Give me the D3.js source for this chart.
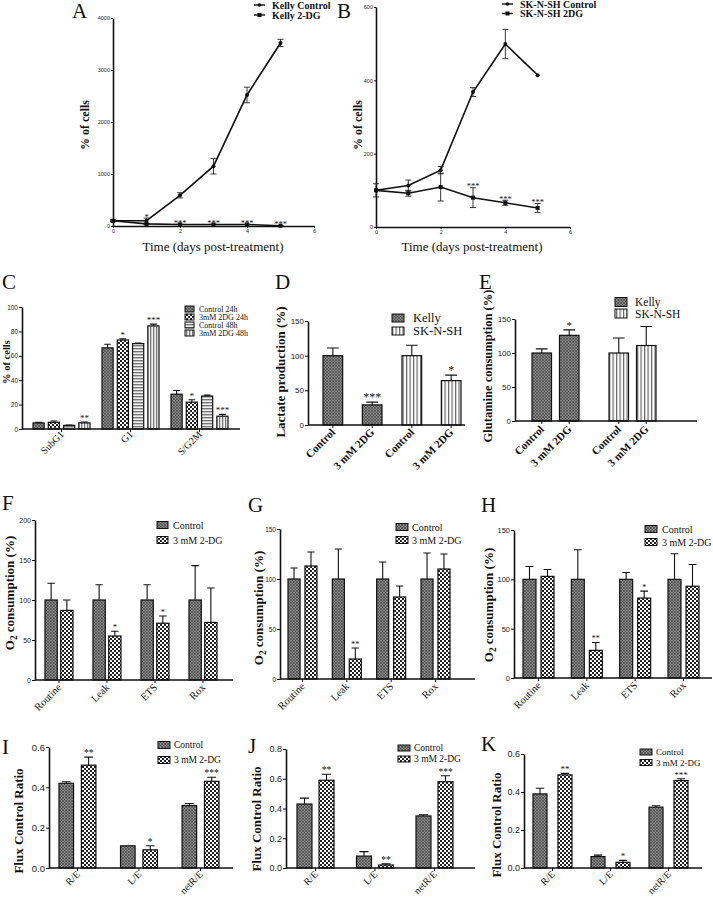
<!DOCTYPE html>
<html><head><meta charset="utf-8">
<script src="https://cdn.jsdelivr.net/npm/d3@7"></script>
<style>
body{margin:0;background:#fff}
svg{display:block}
text{font-family:"Liberation Serif","Times New Roman",serif;fill:#111}
.tick text{font-family:"Liberation Sans",Arial,sans-serif;fill:#222}
</style>
</head><body><svg id="fig" width="713" height="901"></svg>
<script>
// ---------------- DATA ----------------
const days = [0, 1, 2, 3, 4, 5];
const kellyControl = [100, 102, 590, 1150, 2520, 3520];
const kellyControlErr = [20, 50, 50, 150, 150, 70];
const kelly2DG = [100, 40, 30, 30, 30, 5];
const kelly2DGErr = [10, 10, 5, 5, 5, 3];
const kellyStars = ["", "*", "***", "***", "***", "***"];

const shControl = [100, 113, 155, 368, 499, 414];
const shControlErr = [18, 15, 10, 12, 40, 0];
const sh2DG = [100, 92, 109, 80, 66, 52];
const sh2DGErr = [0, 8, 38, 27, 7, 12];
const shStars = ["", "", "", "***", "***", "***"];

const cPhases = ["SubG1", "G1", "S/G2M"];
const cSeries = ["Control  24h", "3mM 2DG  24h", "Control  48h", "3mM 2DG  48h"];
const cControl24 = [5, 66.5, 28.5];
const cControl24Err = [0.5, 3, 3];
const c2DG24 = [5.5, 73, 22];
const c2DG24Err = [1, 1, 2];
const cControl48 = [3, 70, 27];
const cControl48Err = [0.3, 0.5, 0.8];
const c2DG48 = [5, 84.5, 10.5];
const c2DG48Err = [0.7, 1.5, 1.5];
const cStars = [["", "", ""], ["", "*", "*"], ["", "", ""], ["**", "***", "***"]];

const cellLines = ["Kelly", "SK-N-SH"];
const treatments = ["Control", "3 mM 2DG"];
const lactateControl = [100, 100];
const lactateControlErr = [11, 15];
const lactate2DG = [29, 64];
const lactate2DGErr = [4, 8];
const lactateStars = [["", ""], ["***", "*"]];

const glutControl = [100, 100];
const glutControlErr = [6, 22];
const glut2DG = [126, 111];
const glut2DGErr = [8, 28];
const glutStars = [["", ""], ["*", ""]];

const o2States = ["Routine", "Leak", "ETS", "Rox"];
const o2Series = ["Control", "3 mM 2-DG"];
const fControl = [100, 100, 100, 100];
const fControlErr = [21, 19, 19, 43];
const f2DG = [87, 55, 71, 72];
const f2DGErr = [13, 6, 9, 43];
const fStars = [["", "", "", ""], ["", "*", "*", ""]];

const gControl = [100, 100, 100, 100];
const gControlErr = [11, 30, 17, 26];
const g2DG = [113, 20, 82, 110];
const g2DGErr = [14, 11, 11, 15];
const gStars = [["", "", "", ""], ["", "**", "", ""]];

const hControl = [100, 100, 100, 100];
const hControlErr = [13, 30, 7, 26];
const h2DG = [103, 28, 81, 93];
const h2DGErr = [7, 8, 7, 22];
const hStars = [["", "", "", ""], ["", "**", "*", ""]];

const ratios = ["R/E", "L/E", "netR/E"];
const iControl = [0.42, 0.11, 0.31];
const iControlErr = [0.008, 0.0, 0.01];
const i2DG = [0.51, 0.09, 0.43];
const i2DGErr = [0.04, 0.02, 0.02];
const iStars = [["", "", ""], ["**", "*", "***"]];

const jControl = [0.43, 0.08, 0.35];
const jControlErr = [0.04, 0.03, 0.008];
const j2DG = [0.59, 0.02, 0.58];
const j2DGErr = [0.04, 0.008, 0.04];
const jStars = [["", "", ""], ["**", "**", "***"]];

const kControl = [0.39, 0.06, 0.32];
const kControlErr = [0.03, 0.008, 0.008];
const k2DG = [0.49, 0.03, 0.46];
const k2DGErr = [0.008, 0.01, 0.01];
const kStars = [["", "", ""], ["**", "*", "***"]];

// ---------------- DRAWING ----------------
const svg = d3.select("#fig");
svg.append("rect").attr("width", 713).attr("height", 901).attr("fill", "#fff");

const defs = svg.append("defs");
function pat(id, w, h, bg, draw) {
  const p = defs.append("pattern").attr("id", id).attr("width", w).attr("height", h)
    .attr("patternUnits", "userSpaceOnUse");
  p.append("rect").attr("width", w).attr("height", h).attr("fill", bg);
  draw(p);
}
pat("pCtrl", 3, 3, "#868686", p => p.append("path").attr("d", "M0,0L3,3M3,0L0,3").attr("stroke", "#4a4a4a").attr("stroke-width", 0.7));
pat("pDG", 4, 4, "#fff", p => {
  p.append("rect").attr("x", 0).attr("y", 0).attr("width", 2).attr("height", 2).attr("fill", "#222");
  p.append("rect").attr("x", 2).attr("y", 2).attr("width", 2).attr("height", 2).attr("fill", "#222");
});
pat("pH", 3, 3, "#f2f2f2", p => p.append("rect").attr("width", 3).attr("height", 1.4).attr("fill", "#777"));
pat("pV", 3, 3, "#f2f2f2", p => p.append("rect").attr("width", 1.3).attr("height", 3).attr("fill", "#777"));
pat("pV2", 3.5, 3, "#fff", p => p.append("rect").attr("width", 1.2).attr("height", 3).attr("fill", "#666"));

function styleAxis(sel, fs) {
  sel.select(".domain").attr("stroke", "#111").attr("stroke-width", 1.6);
  sel.selectAll(".tick line").attr("stroke", "#111").attr("stroke-width", 1);
  sel.selectAll(".tick text").attr("font-size", fs);
}

function letter(t, x, y) {
  svg.append("text").attr("x", x).attr("y", y).attr("font-size", 21).text(t);
}

function yLabel(parts, cx, cy, fs) {
  const t = svg.append("text").attr("transform", `translate(${cx},${cy}) rotate(-90)`)
    .attr("text-anchor", "middle").attr("dy", "0.35em").attr("font-size", fs).attr("font-weight", "bold");
  if (typeof parts === "string") t.text(parts);
  else {
    t.append("tspan").text("O");
    t.append("tspan").attr("dy", 3).attr("font-size", fs * 0.72).text("2");
    t.append("tspan").attr("dy", -3).text(" consumption (%)");
  }
}

function linePanel(c) {
  const x = d3.scaleLinear().domain([0, 6]).range(c.xr);
  const y = d3.scaleLinear().domain([0, c.yMax]).range(c.yr);
  svg.append("g").attr("transform", `translate(0,${c.yr[0]})`)
    .call(d3.axisBottom(x).tickValues([0, 2, 4, 6]).tickFormat(d3.format("d")).tickSize(2).tickSizeOuter(0).tickPadding(1))
    .call(styleAxis, 5.5);
  svg.append("g").attr("transform", `translate(${c.xr[0]},0)`)
    .call(d3.axisLeft(y).tickValues(c.yTicks).tickFormat(d3.format("d")).tickSize(2).tickSizeOuter(0).tickPadding(1))
    .call(styleAxis, 5.5);
  c.series.forEach(s => {
    const pts = days.map((d, i) => ({ d, v: s.values[i], e: s.err[i] }));
    svg.append("path").datum(pts).attr("fill", "none").attr("stroke", "#111").attr("stroke-width", 1.6)
      .attr("d", d3.line().x(p => x(p.d)).y(p => y(p.v)));
    pts.forEach(p => {
      if (p.e > 0) {
        svg.append("path").attr("stroke", "#222").attr("stroke-width", 0.9).attr("fill", "none")
          .attr("d", `M${x(p.d)},${y(p.v - p.e)}V${y(p.v + p.e)}M${x(p.d) - 3},${y(p.v - p.e)}h6M${x(p.d) - 3},${y(p.v + p.e)}h6`);
      }
      if (s.marker === "circle") svg.append("circle").attr("cx", x(p.d)).attr("cy", y(p.v)).attr("r", 2).attr("fill", "#111");
      else svg.append("rect").attr("x", x(p.d) - 2).attr("y", y(p.v) - 2).attr("width", 4).attr("height", 4).attr("fill", "#111");
    });
  });
  const st = c.series[1];
  c.stars.forEach((s, i) => {
    if (!s) return;
    const top = Math.max(st.values[i] + st.err[i], c.starMin[i] || 0);
    svg.append("text").attr("x", x(days[i])).attr("y", y(top) + 1.5).attr("text-anchor", "middle")
      .attr("font-size", 8.5).text(s);
  });
  c.series.forEach((s, i) => {
    const ly = c.legY + i * c.legStep;
    svg.append("line").attr("x1", c.legX).attr("x2", c.legX + 11).attr("y1", ly).attr("y2", ly).attr("stroke", "#111").attr("stroke-width", 1.4);
    if (s.marker === "circle") svg.append("circle").attr("cx", c.legX + 5.5).attr("cy", ly).attr("r", 1.8).attr("fill", "#111");
    else svg.append("rect").attr("x", c.legX + 3.5).attr("y", ly - 2).attr("width", 4).attr("height", 4).attr("fill", "#111");
    svg.append("text").attr("x", c.legX + 18).attr("y", ly).attr("dy", "0.35em").attr("font-size", 10)
      .attr("font-weight", "bold").text(s.name);
  });
  yLabel("% of cells", c.ylab[0], c.ylab[1], 12);
  svg.append("text").attr("x", c.xlab[0]).attr("y", c.xlab[1]).attr("text-anchor", "middle").attr("font-size", 13)
    .text("Time (days post-treatment)");
  letter(c.letter, c.letterPos[0], c.letterPos[1]);
}

function barPanel(c) {
  const y = d3.scaleLinear().domain([0, c.yMax]).range([c.y0, c.y1]);
  const x0 = d3.scaleBand().domain(c.groups).range(c.barRange).paddingInner(c.pGroup);
  const x1 = d3.scaleBand().domain(c.series).range([0, x0.bandwidth()]).paddingInner(c.pInner);
  const bw = x1.bandwidth();
  c.series.forEach((s, si) => c.groups.forEach((grp, gi) => {
    const v = c.values[si][gi], e = c.errors[si][gi], st = c.stars[si][gi];
    const bx = x0(grp) + x1(s), cx = bx + bw / 2;
    svg.append("rect").attr("x", bx).attr("y", y(v)).attr("width", bw).attr("height", y(0) - y(v))
      .attr("fill", c.fill(gi, si)).attr("stroke", "#111").attr("stroke-width", 1.2);
    if (e > 0) {
      svg.append("path").attr("stroke", "#111").attr("stroke-width", 1.1).attr("fill", "none")
        .attr("d", `M${cx},${y(v)}V${y(v + e)}M${cx - bw * 0.3},${y(v + e)}h${bw * 0.6}`);
    }
    if (st) svg.append("text").attr("x", cx).attr("y", y(v + e) - 1).attr("text-anchor", "middle")
      .attr("font-size", c.starFs).text(st);
    if (c.perBarLabels) {
      svg.append("text").attr("transform", `translate(${cx + 3},${y(0) + c.labDy}) rotate(-45)`)
        .attr("text-anchor", "end").attr("font-size", c.labFs).attr("font-weight", c.labWeight || "normal").text(s);
      svg.append("line").attr("x1", cx).attr("x2", cx).attr("y1", y(0)).attr("y2", y(0) + 3).attr("stroke", "#111");
    }
  }));
  if (!c.perBarLabels) c.groups.forEach(grp => {
    const cx = x0(grp) + x0.bandwidth() / 2;
    svg.append("line").attr("x1", cx).attr("x2", cx).attr("y1", y(0)).attr("y2", y(0) + 3).attr("stroke", "#111");
    svg.append("text").attr("transform", `translate(${cx + 3},${y(0) + c.labDy}) rotate(-45)`)
      .attr("text-anchor", "end").attr("font-size", c.labFs).attr("font-weight", c.labWeight || "normal").text(grp);
  });
  svg.append("g").attr("transform", `translate(${c.axisX},0)`)
    .call(d3.axisLeft(y).tickValues(c.yTicks).tickFormat(c.fmt || d3.format("d")).tickSize(3).tickSizeOuter(0).tickPadding(1))
    .call(styleAxis, c.tickFs);
  svg.append("line").attr("x1", c.axisX).attr("x2", c.axisEnd).attr("y1", y(0)).attr("y2", y(0))
    .attr("stroke", "#111").attr("stroke-width", 1.6);
  c.legend.forEach((it, i) => {
    const ly = c.leg[1] + i * c.leg[2];
    svg.append("rect").attr("x", c.leg[0]).attr("y", ly - c.sw[1] / 2).attr("width", c.sw[0]).attr("height", c.sw[1])
      .attr("fill", it.fill).attr("stroke", "#111").attr("stroke-width", 1);
    svg.append("text").attr("x", c.leg[0] + c.sw[0] + c.legGap).attr("y", ly).attr("dy", "0.35em")
      .attr("font-size", c.legFs).text(it.label);
  });
  yLabel(c.ylabel, c.ylab[0], c.ylab[1], c.ylabFs);
  letter(c.letter, c.letterPos[0], c.letterPos[1]);
}

// Panel A
linePanel({
  letter: "A", letterPos: [72, 18], xr: [113, 314], yr: [226, 18], yMax: 4000, yTicks: [0, 1000, 2000, 3000, 4000],
  series: [
    { name: "Kelly Control", values: kellyControl, err: kellyControlErr, marker: "circle" },
    { name: "Kelly 2-DG", values: kelly2DG, err: kelly2DGErr, marker: "square" }
  ],
  stars: kellyStars, starMin: [0, kellyControl[1] + kellyControlErr[1]],
  legX: 254, legY: 5, legStep: 10, ylab: [85, 125], xlab: [213, 251]
});
// Panel B
linePanel({
  letter: "B", letterPos: [337, 18], xr: [376, 570], yr: [227, 7], yMax: 600, yTicks: [0, 200, 400, 600],
  series: [
    { name: "SK-N-SH Control", values: shControl, err: shControlErr, marker: "circle" },
    { name: "SK-N-SH 2DG", values: sh2DG, err: sh2DGErr, marker: "square" }
  ],
  stars: shStars, starMin: [],
  legX: 502, legY: 4, legStep: 9.5, ylab: [358, 125], xlab: [472, 251]
});

const ctrlFill = "url(#pCtrl)", dgFill = "url(#pDG)";
const cFills = [ctrlFill, dgFill, "url(#pH)", "url(#pV)"];
// Panel C
barPanel({
  letter: "C", letterPos: [2, 289], groups: cPhases, series: cSeries,
  values: [cControl24, c2DG24, cControl48, c2DG48], errors: [cControl24Err, c2DG24Err, cControl48Err, c2DG48Err],
  stars: cStars, fill: (g, s) => cFills[s],
  yMax: 100, y0: 429, y1: 307, yTicks: [0, 20, 40, 60, 80, 100], barRange: [33, 228], pGroup: 0.174, pInner: 0.27,
  axisX: 22, axisEnd: 240, tickFs: 6.5, starFs: 9, labFs: 10, labDy: 6,
  legend: cSeries.map((s, i) => ({ label: s, fill: cFills[i] })), leg: [185, 309, 8], sw: [9, 6], legGap: 5, legFs: 8,
  ylabel: "% of cells", ylab: [6, 362], ylabFs: 10.5
});
const dFills = [ctrlFill, "url(#pV2)"];
// Panel D
barPanel({
  letter: "D", letterPos: [275, 289], groups: cellLines, series: treatments,
  values: [lactateControl, lactate2DG], errors: [lactateControlErr, lactate2DGErr],
  stars: lactateStars, fill: (g, s) => dFills[g],
  yMax: 150, y0: 425, y1: 321, yTicks: [0, 50, 100, 150], barRange: [323, 461], pGroup: 0.253, pInner: 0.5,
  axisX: 308, axisEnd: 465, tickFs: 8, starFs: 12, labFs: 11, labWeight: "bold", labDy: 8, perBarLabels: true,
  legend: cellLines.map((s, i) => ({ label: s, fill: dFills[i] })), leg: [392, 318, 13], sw: [12, 8], legGap: 9, legFs: 12.5,
  ylabel: "Lactate production (%)", ylab: [280, 372], ylabFs: 13
});
// Panel E
barPanel({
  letter: "E", letterPos: [479, 289], groups: cellLines, series: treatments,
  values: [glutControl, glut2DG], errors: [glutControlErr, glut2DGErr],
  stars: glutStars, fill: (g, s) => dFills[g],
  yMax: 150, y0: 421, y1: 319, yTicks: [0, 50, 100, 150], barRange: [532, 656], pGroup: 0.39, pInner: 0.29,
  axisX: 515, axisEnd: 697, tickFs: 8, starFs: 11, labFs: 11, labWeight: "bold", labDy: 9, perBarLabels: true,
  legend: cellLines.map((s, i) => ({ label: s, fill: dFills[i] })), leg: [615, 302, 11.5], sw: [12, 9], legGap: 8, legFs: 11.5,
  ylabel: "Glutamine consumption (%)", ylab: [488, 366], ylabFs: 12.5
});
const sFills = [ctrlFill, dgFill];
const o2Legend = o2Series.map((s, i) => ({ label: s, fill: sFills[i] }));
// Panel F
barPanel({
  letter: "F", letterPos: [2, 510], groups: o2States, series: o2Series,
  values: [fControl, f2DG], errors: [fControlErr, f2DGErr], stars: fStars, fill: (g, s) => sFills[s],
  yMax: 200, y0: 680, y1: 520, yTicks: [0, 50, 100, 150, 200], barRange: [45, 217], pGroup: 0.417, pInner: 0.22,
  axisX: 35, axisEnd: 233, tickFs: 7, starFs: 8.5, labFs: 10.5, labDy: 8,
  legend: o2Legend, leg: [157, 525, 15], sw: [11, 7], legGap: 5, legFs: 10,
  ylabel: null, ylab: [9, 593], ylabFs: 13
});
// Panel G
barPanel({
  letter: "G", letterPos: [248, 512], groups: o2States, series: o2Series,
  values: [gControl, g2DG], errors: [gControlErr, g2DGErr], stars: gStars, fill: (g, s) => sFills[s],
  yMax: 150, y0: 679, y1: 529, yTicks: [0, 50, 100, 150], barRange: [288, 450], pGroup: 0.346, pInner: 0.29,
  axisX: 280, axisEnd: 475, tickFs: 6.5, starFs: 8.5, labFs: 10.5, labDy: 8,
  legend: o2Legend, leg: [396, 527, 13], sw: [12, 7], legGap: 4, legFs: 10,
  ylabel: null, ylab: [258, 608], ylabFs: 13
});
// Panel H
barPanel({
  letter: "H", letterPos: [481, 512], groups: o2States, series: o2Series,
  values: [hControl, h2DG], errors: [hControlErr, h2DGErr], stars: hStars, fill: (g, s) => sFills[s],
  yMax: 150, y0: 678, y1: 530, yTicks: [0, 50, 100, 150], barRange: [523, 699], pGroup: 0.359, pInner: 0.28,
  axisX: 514, axisEnd: 712, tickFs: 7.5, starFs: 8, labFs: 10.5, labDy: 8,
  legend: o2Legend, leg: [645, 529, 13], sw: [12, 7], legGap: 5, legFs: 10,
  ylabel: null, ylab: [488, 605], ylabFs: 13
});
const f1 = d3.format(".1f");
// Panel I
barPanel({
  letter: "I", letterPos: [2, 754], groups: ratios, series: o2Series,
  values: [iControl, i2DG], errors: [iControlErr, i2DGErr], stars: iStars, fill: (g, s) => sFills[s],
  yMax: 0.6, y0: 868, y1: 747, yTicks: [0, 0.2, 0.4, 0.6], fmt: f1, barRange: [59, 219], pGroup: 0.4, pInner: 0.35,
  axisX: 49, axisEnd: 233, tickFs: 9.5, starFs: 9.5, labFs: 10, labDy: 7,
  legend: o2Legend, leg: [158, 745, 15], sw: [12, 7], legGap: 4, legFs: 9.5,
  ylabel: "Flux Control Ratio", ylab: [18, 821], ylabFs: 13
});
// Panel J
barPanel({
  letter: "J", letterPos: [248, 753], groups: ratios, series: o2Series,
  values: [jControl, j2DG], errors: [jControlErr, j2DGErr], stars: jStars, fill: (g, s) => sFills[s],
  yMax: 0.8, y0: 868, y1: 749, yTicks: [0, 0.2, 0.4, 0.6, 0.8], fmt: f1, barRange: [297, 453], pGroup: 0.378, pInner: 0.32,
  axisX: 286, axisEnd: 475, tickFs: 9, starFs: 9.5, labFs: 10, labDy: 7,
  legend: o2Legend, leg: [398, 748, 11], sw: [12, 6], legGap: 4, legFs: 9.5,
  ylabel: "Flux Control Ratio", ylab: [256, 819], ylabFs: 13
});
// Panel K
barPanel({
  letter: "K", letterPos: [481, 751], groups: ratios, series: o2Series,
  values: [kControl, k2DG], errors: [kControlErr, k2DGErr], stars: kStars, fill: (g, s) => sFills[s],
  yMax: 0.6, y0: 868, y1: 754, yTicks: [0, 0.2, 0.4, 0.6], fmt: f1, barRange: [533, 688], pGroup: 0.328, pInner: 0.44,
  axisX: 524, axisEnd: 702, tickFs: 9, starFs: 9, labFs: 10, labDy: 7,
  legend: o2Legend, leg: [640, 752, 10.5], sw: [12, 6], legGap: 4, legFs: 9,
  ylabel: "Flux Control Ratio", ylab: [496, 825], ylabFs: 13
});
</script>
</body></html>
